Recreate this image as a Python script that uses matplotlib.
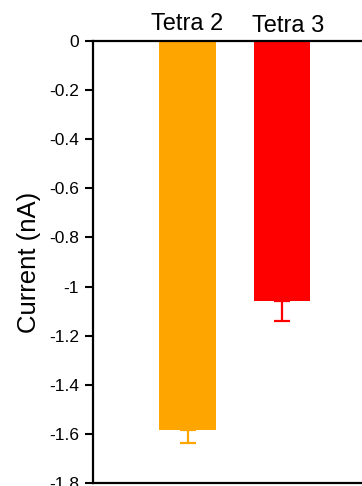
import matplotlib.pyplot as plt
from matplotlib.transforms import ScaledTranslation

labels = ['Tetra 2', 'Tetra 3']
current = [-1.585, -1.058]
sem = [0.052, 0.081]
colors = ['#ffa500', '#ff0000']

plt.rcParams['font.family'] = ['Liberation Sans', 'DejaVu Sans']

fig = plt.figure(figsize=(3.62, 4.86), dpi=100)
# axes run past the right and bottom edges of the figure
ax = fig.add_axes([0.257, 0.0062, 0.783, 0.9094])

pos = [1, 2]
ax.bar(pos, current, width=0.6, color=colors)
for x, y, e, c in zip(pos, current, sem, colors):
    ax.errorbar(x, y, yerr=[[e], [0]], fmt='none', ecolor=c,
                elinewidth=1.6, capsize=5.8, capthick=1.6)

ax.set_xlim(0, 3)
ax.set_ylim(-1.8, 0)
ax.set_yticks([0, -0.2, -0.4, -0.6, -0.8, -1, -1.2, -1.4, -1.6, -1.8])
ax.set_yticklabels(['0', '-0.2', '-0.4', '-0.6', '-0.8', '-1', '-1.2', '-1.4', '-1.6', '-1.8'])
ax.set_xticks([])
ax.tick_params(axis='y', length=6, width=1.5, pad=4, labelsize=12.5)
ax.set_ylabel('Current (nA)', fontsize=18.5, labelpad=6)

# group names above the top spine (offsets in pixels); the second sits a bit to the right
offsets = [(0, 6), (6, 4)]
for x, name, (dx, dy) in zip(pos, labels, offsets):
    tr = ax.get_xaxis_transform() + ScaledTranslation(dx / 100, dy / 100, fig.dpi_scale_trans)
    ax.text(x, 1.0, name, transform=tr, ha='center', va='bottom', fontsize=17)

for s in ax.spines.values():
    s.set_linewidth(1.6)
ax.spines['right'].set_visible(False)

fig.savefig('out.png', dpi=100)
